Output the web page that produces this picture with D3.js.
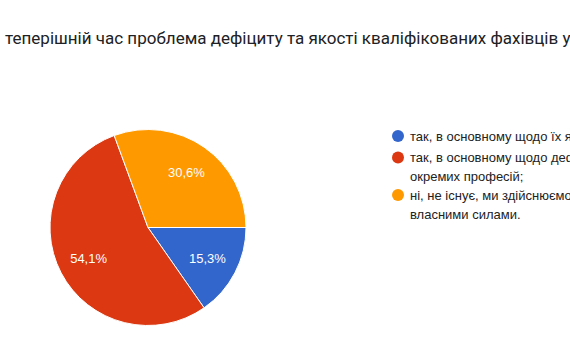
<!DOCTYPE html>
<html><head><meta charset="utf-8">
<script src="https://cdn.jsdelivr.net/npm/d3@7"></script>
<style>body{margin:0;background:#fff;overflow:hidden}svg{display:block}</style>
</head><body>
<svg id="c" width="570" height="364"></svg>
<script>
const titleText = "теперішній час проблема дефіциту та якості кваліфікованих фахівців у";
const categories = [
  "так, в основному щодо їх якості;",
  "так, в основному щодо дефіциту окремих професій;",
  "ні, не існує, ми здійснюємо підготовку власними силами."
];
const legendLines = [
  ["так, в основному щодо їх якості;"],
  ["так, в основному щодо дефіциту", "окремих професій;"],
  ["ні, не існує, ми здійснюємо підготовку", "власними силами."]
];
const values = [15.3, 54.1, 30.6];
const labels = ["15,3%", "54,1%", "30,6%"];
const colors = ["#3366cc", "#dc3912", "#ff9900"];

const svg = d3.select("#c");
svg.append("text").attr("x", 5).attr("y", 44)
  .attr("font-family", "Roboto, 'Noto Sans', sans-serif").attr("font-size", 17)
  .attr("fill", "#202124").text(titleText);

const cx = 148, cy = 227.5, R = 98;
const pie = d3.pie().sort(null).startAngle(Math.PI/2).endAngle(Math.PI/2 + 2*Math.PI).value(d => d);
const arcs = pie(values);
const arc = d3.arc().innerRadius(0).outerRadius(R);
const labelArc = d3.arc().innerRadius(67).outerRadius(67);
const g = svg.append("g").attr("transform", `translate(${cx},${cy})`);
g.selectAll("path").data(arcs).join("path")
  .attr("d", arc).attr("fill", (d,i) => colors[i])
  .attr("stroke", "#fff").attr("stroke-width", 1);
g.selectAll("text").data(arcs).join("text")
  .attr("transform", d => `translate(${labelArc.centroid(d)})`)
  .attr("text-anchor", "middle").attr("dy", "0.36em")
  .attr("font-family", "'Liberation Sans', Arial, sans-serif").attr("font-size", 13)
  .attr("fill", "#fff").text((d,i) => labels[i]);

const legY = [136, 157.5, 195];
const lg = svg.append("g");
legendLines.forEach((lines, i) => {
  lg.append("circle").attr("cx", 398).attr("cy", legY[i]).attr("r", 6).attr("fill", colors[i]);
  lines.forEach((t, j) => {
    lg.append("text").attr("x", 410).attr("y", legY[i] + j*19).attr("dy", "0.36em")
      .attr("font-family", "'Liberation Sans', Arial, sans-serif").attr("font-size", 13)
      .attr("fill", "#222").text(t);
  });
});
</script>
</body></html>
